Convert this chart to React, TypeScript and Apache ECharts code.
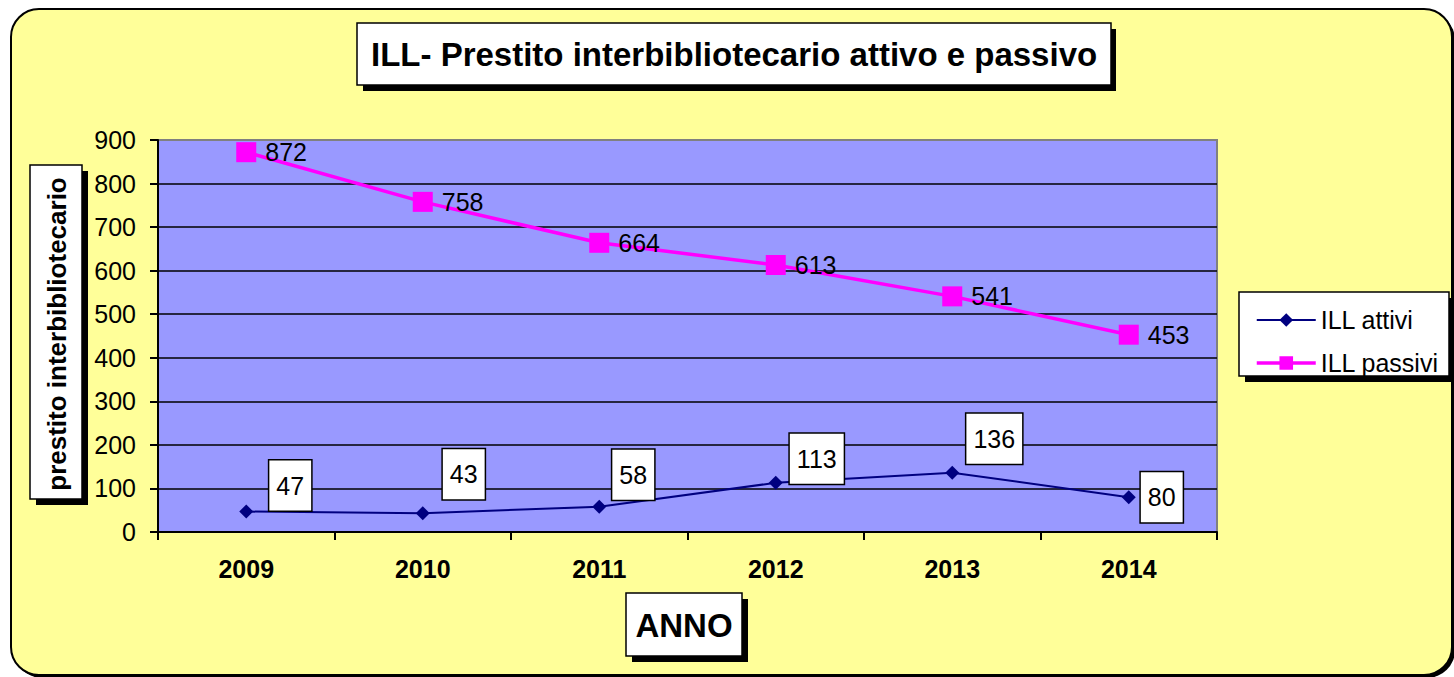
import React, { useEffect, useRef } from "react";
import * as echarts from "echarts";

const years = ["2009", "2010", "2011", "2012", "2013", "2014"];
const illAttivi = [47, 43, 58, 113, 136, 80];
const illPassivi = [872, 758, 664, 613, 541, 453];
const seriesNames = ["ILL attivi", "ILL passivi"];
const titleText = "ILL- Prestito interbibliotecario attivo e passivo";
const yName = "prestito interbibliotecario";
const xName = "ANNO";
// label placement (px) for the boxed labels of "ILL attivi"
const attiviLabelOffsets = [
  [44, -26],
  [41, -39],
  [34, -32],
  [41, -24],
  [42, -34],
  [33, 0],
];

const FONT = 'Arial, "Liberation Sans", sans-serif';

export default function App() {
  const ref = useRef<HTMLDivElement>(null);
  useEffect(() => {
    if (!ref.current) return;
    const chart = echarts.init(ref.current, null, { renderer: "svg" });
    const splitColors: string[] = [];
    for (let i = 0; i < 10; i++) splitColors.push(i === 9 ? "#808080" : "#000000");
    chart.setOption({
      animation: false,
      backgroundColor: "#ffffff",
      textStyle: { fontFamily: FONT },
      title: {
        text: titleText,
        left: 357,
        top: 23,
        padding: [13, 14],
        backgroundColor: "#ffffff",
        borderColor: "#000000",
        borderWidth: 1.5,
        z: 6,
        textStyle: {
          fontFamily: FONT,
          fontSize: 33,
          fontWeight: "bold",
          color: "#000000",
          lineHeight: 36,
        },
      },
      legend: {
        data: [
          { name: seriesNames[0], lineStyle: { width: 2, color: "#000080" } },
          { name: seriesNames[1], lineStyle: { width: 3.5, color: "#FF00FF" } },
        ],
        orient: "vertical",
        left: 1250,
        top: 301,
        itemWidth: 59,
        itemHeight: 17,
        itemGap: 15,
        z: 6,
        textStyle: { fontFamily: FONT, fontSize: 25, lineHeight: 28, color: "#000000" },
      },
      grid: {
        left: 158,
        right: 237,
        top: 140,
        bottom: 145,
        show: true,
        backgroundColor: "#9999FF",
        borderColor: "#808080",
        borderWidth: 2,
      },
      xAxis: {
        type: "category",
        data: years,
        boundaryGap: true,
        axisLine: { lineStyle: { color: "#000000", width: 2 } },
        axisTick: { show: true, length: 8, lineStyle: { color: "#000000", width: 2 } },
        axisLabel: {
          fontFamily: FONT,
          fontSize: 25,
          fontWeight: "bold",
          color: "#000000",
          margin: 24,
        },
      },
      yAxis: {
        type: "value",
        min: 0,
        max: 900,
        interval: 100,
        axisLine: { show: true, lineStyle: { color: "#000000", width: 2 } },
        axisTick: { show: true, length: 8, lineStyle: { color: "#000000", width: 2 } },
        axisLabel: { fontFamily: FONT, fontSize: 25, color: "#000000", margin: 22 },
        splitLine: { show: true, lineStyle: { color: splitColors, width: 1.5 } },
      },
      graphic: [
        {
          type: "rect",
          z: -2,
          shape: { x: 14, y: 12, width: 1441, height: 666, r: 28 },
          style: { fill: "#000000" },
        },
        {
          type: "rect",
          z: -1,
          shape: { x: 11, y: 9, width: 1441, height: 666, r: 28 },
          style: { fill: "#FFFF99", stroke: "#000000", lineWidth: 2 },
        },
        // title shadow
        {
          type: "rect",
          z: 3,
          shape: { x: 363, y: 29, width: 753, height: 62 },
          style: { fill: "#000000" },
        },
        // y name
        {
          type: "rect",
          z: 3,
          shape: { x: 36, y: 171, width: 52, height: 334 },
          style: { fill: "#000000" },
        },
        {
          type: "rect",
          z: 4,
          shape: { x: 30, y: 165, width: 52, height: 334 },
          style: { fill: "#ffffff", stroke: "#000000", lineWidth: 1.5 },
        },
        {
          type: "text",
          z: 5,
          x: 57,
          y: 334,
          rotation: Math.PI / 2,
          style: {
            text: yName,
            fontFamily: FONT,
            fontSize: 26,
            fontWeight: "bold",
            fill: "#000000",
            align: "center",
            verticalAlign: "middle",
          },
        },
        // x name
        {
          type: "rect",
          z: 3,
          shape: { x: 632, y: 599, width: 116, height: 63 },
          style: { fill: "#000000" },
        },
        {
          type: "rect",
          z: 4,
          shape: { x: 626, y: 593, width: 116, height: 63 },
          style: { fill: "#ffffff", stroke: "#000000", lineWidth: 1.5 },
        },
        {
          type: "text",
          z: 5,
          x: 684,
          y: 625,
          style: {
            text: xName,
            fontFamily: FONT,
            fontSize: 33,
            fontWeight: "bold",
            fill: "#000000",
            align: "center",
            verticalAlign: "middle",
          },
        },
        // legend box
        {
          type: "rect",
          z: 3,
          shape: { x: 1245, y: 298, width: 210, height: 84 },
          style: { fill: "#000000" },
        },
        {
          type: "rect",
          z: 4,
          shape: { x: 1239, y: 292, width: 210, height: 84 },
          style: { fill: "#ffffff", stroke: "#000000", lineWidth: 1.5 },
        },
      ],
      series: [
        {
          name: seriesNames[0],
          type: "line",
          data: illAttivi.map((v, i) => ({
            value: v,
            label: { offset: attiviLabelOffsets[i] },
          })),
          symbol: "diamond",
          symbolSize: 14,
          color: "#000080",
          lineStyle: { color: "#000080", width: 2 },
          itemStyle: { color: "#000080" },
          z: 3,
          label: {
            show: true,
            position: "inside",
            fontFamily: FONT,
            fontSize: 25,
            lineHeight: 26,
            color: "#000000",
            backgroundColor: "#ffffff",
            borderColor: "#000000",
            borderWidth: 1.5,
            padding: [12, 7],
          },
        },
        {
          name: seriesNames[1],
          type: "line",
          data: illPassivi,
          symbol: "rect",
          symbolSize: 20,
          color: "#FF00FF",
          lineStyle: { color: "#FF00FF", width: 3.5 },
          itemStyle: { color: "#FF00FF" },
          z: 3,
          label: {
            show: true,
            position: "right",
            distance: 9,
            fontFamily: FONT,
            fontSize: 25,
            color: "#000000",
          },
        },
      ],
    });
    return () => chart.dispose();
  }, []);
  return (
    <div
      ref={ref}
      style={{ position: "fixed", left: 0, top: 0, width: 1454, height: 677 }}
    />
  );
}
